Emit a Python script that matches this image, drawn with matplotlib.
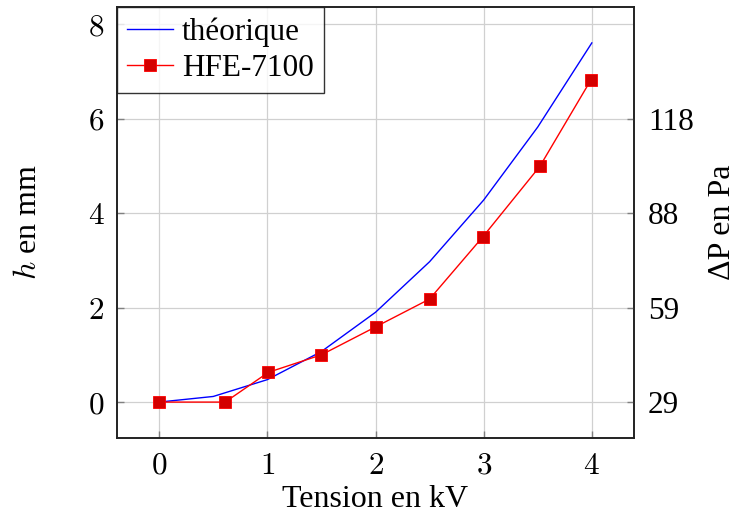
import matplotlib
matplotlib.use("Agg")
import matplotlib.pyplot as plt

plt.rcParams['mathtext.fontset'] = 'cm'
plt.rcParams['font.family'] = ['Liberation Serif', 'DejaVu Serif']

# Data
x_theo = [0, 0.5, 1, 1.5, 2, 2.5, 3, 3.5, 4]
h_theo = [0, 0.119, 0.475, 1.07, 1.9, 2.97, 4.275, 5.82, 7.6]
x_hfe = [0, 0.61, 1.01, 1.5, 2.0, 2.5, 2.99, 3.52, 3.99]
h_hfe = [0, 0.0, 0.63, 1.0, 1.59, 2.18, 3.49, 4.99, 6.81]
x_ticks = [0, 1, 2, 3, 4]
y_ticks = [0, 2, 4, 6, 8]
right_ticks = [0, 2, 4, 6]
right_labels = ['29', '59', '88', '118']

FS = 23

fig = plt.figure(figsize=(7.42, 5.15), dpi=100)
ax = fig.add_axes([117/742, 77/515, (634-117)/742, (438-7)/515])

ax.plot(x_theo, h_theo, color='blue', lw=1.0, label='théorique', zorder=3)
ax.plot(x_hfe, h_hfe, color='red', lw=1.0, marker='s', markersize=9,
        markerfacecolor='#d40000', markeredgecolor='red', markeredgewidth=0.6,
        label='HFE-7100', zorder=4)

ax.set_xlim(-0.39, 4.39)
ax.set_ylim(-0.76, 8.36)
ax.set_xticks(x_ticks)
ax.set_yticks(y_ticks)
ax.set_xticklabels([f'${v}$' for v in x_ticks])
ax.set_yticklabels([f'${v}$' for v in y_ticks])
ax.grid(True, color='#d0d0d0', lw=0.9)
ax.set_axisbelow(True)
ax.tick_params(direction='in', length=5, color='#808080', labelsize=FS - 0.5, width=1)
ax.tick_params(axis='x', pad=10)
ax.tick_params(axis='y', pad=9)
for s in ax.spines.values():
    s.set_linewidth(1.2)
    s.set_color('#222222')

ax.set_xlabel('Tension en kV', fontsize=FS, labelpad=3)
ax.set_ylabel(r'$h$ en mm', fontsize=FS, labelpad=32)

ax2 = ax.twinx()
ax2.set_ylim(ax.get_ylim())
ax2.set_yticks(right_ticks)
ax2.set_yticklabels(right_labels)
ax2.tick_params(direction='in', length=5, color='#808080', labelsize=FS - 0.5, width=1, pad=10)
ax2.set_ylabel('ΔP en Pa', fontsize=FS, labelpad=10)
for s in ax2.spines.values():
    s.set_linewidth(1.2)
    s.set_color('#222222')

leg = ax.legend(loc='upper left', fontsize=FS - 0.5, frameon=True, fancybox=False,
                edgecolor='black', borderaxespad=0.0, handlelength=1.45,
                borderpad=0.33, labelspacing=0.22, handletextpad=0.3)
leg.get_frame().set_linewidth(1.0)
leg.set_zorder(10)

fig.savefig('out.png', dpi=100)
